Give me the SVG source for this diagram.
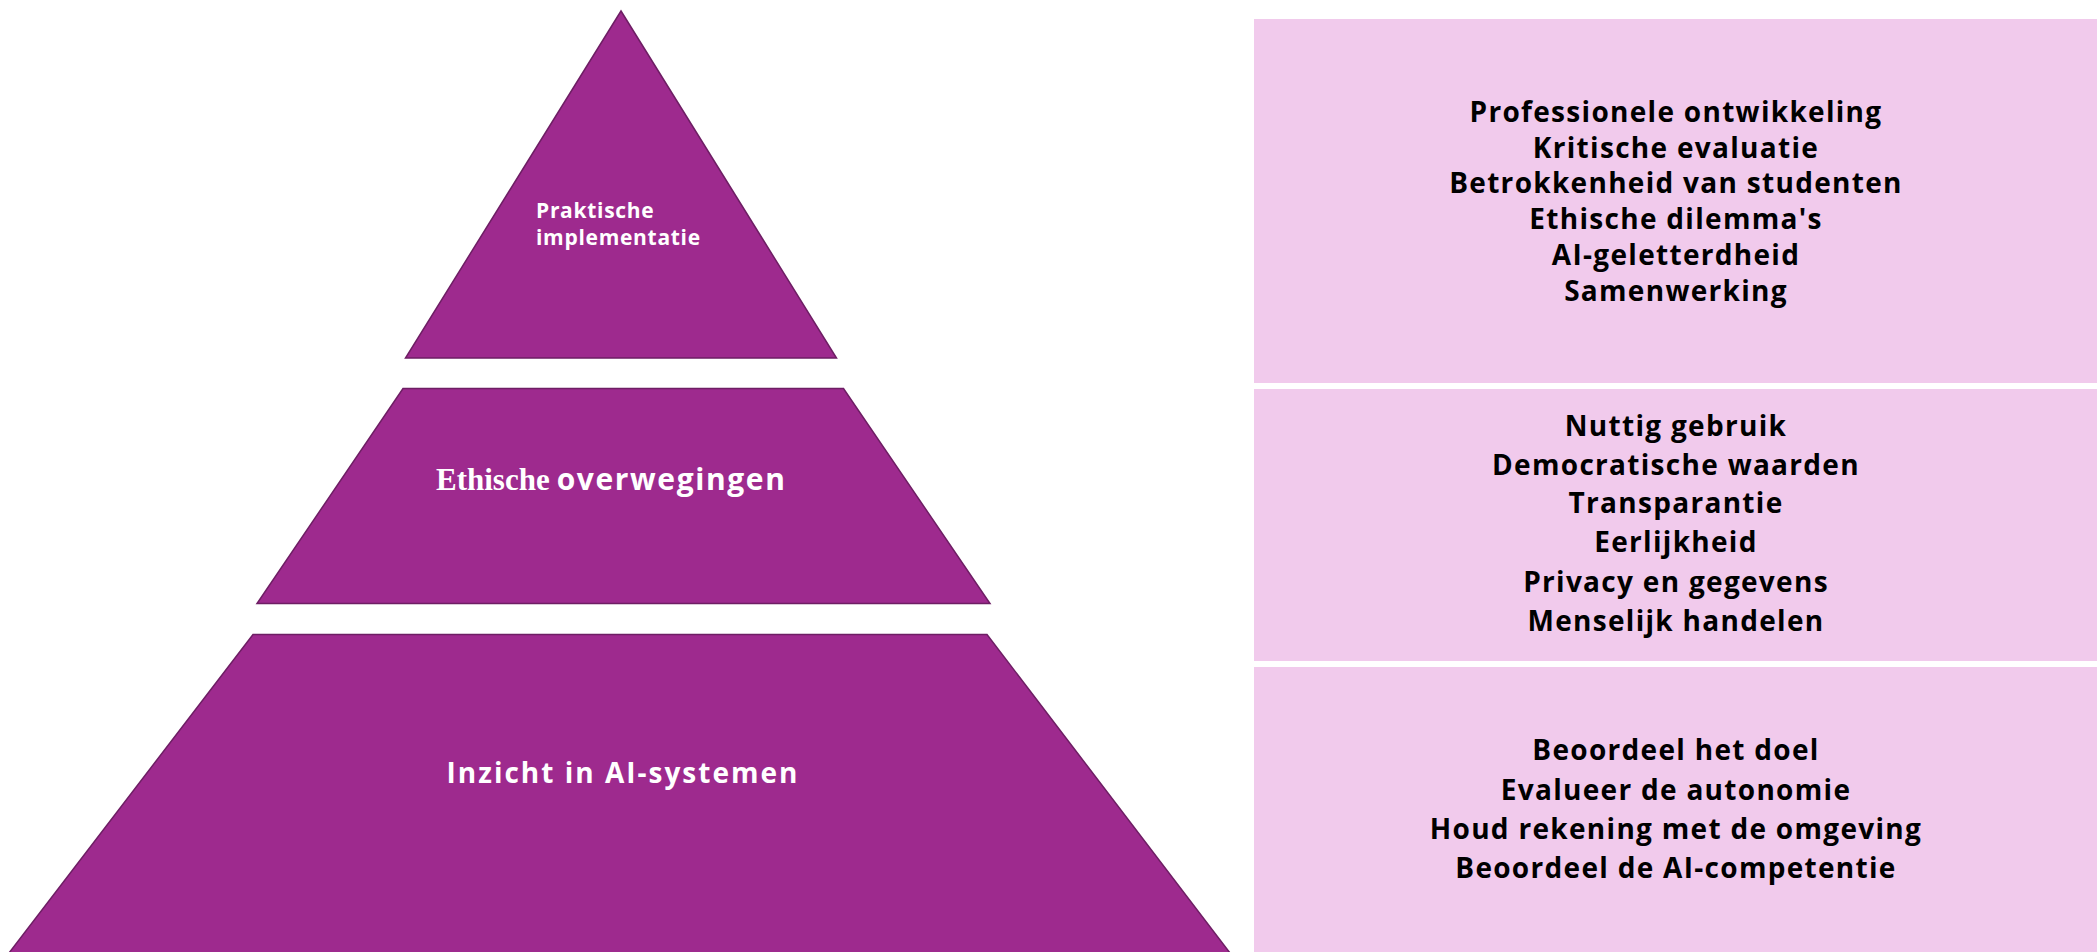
<svg xmlns="http://www.w3.org/2000/svg" width="2100" height="952" viewBox="0 0 2100 952">
  <style>
    .tier { fill: #9E2A8E; stroke: #6E1E64; stroke-width: 1.5; }
    .box { fill: #F1CAEC; }
    .lbl { font-family: "Open Sans", Inter, "Liberation Sans", sans-serif; font-weight: 700; fill: #FFFFFF; }
    .item { font-family: "Open Sans", Inter, "Liberation Sans", sans-serif; font-weight: 700; font-size: 28px; letter-spacing: 1.3px; fill: #000000; text-anchor: middle; }
  </style>
  <rect width="2100" height="952" fill="#FFFFFF"/>
  <g id="tier-top">
    <polygon class="tier" points="621,11 836.5,358 405.5,358"/>
    <text class="lbl" font-size="21" letter-spacing="0.7" x="536" y="218">Praktische</text>
    <text class="lbl" font-size="21" letter-spacing="0.7" x="536" y="245">implementatie</text>
  </g>
  <g id="tier-middle">
    <polygon class="tier" points="403,388.5 843.5,388.5 990,603.5 257,603.5"/>
    <text x="436" y="490" font-size="31" fill="#FFFFFF"><tspan font-family="'Liberation Serif', serif" font-weight="700">Ethische</tspan><tspan class="lbl" dx="7" font-size="30" letter-spacing="1.6">overwegingen</tspan></text>
  </g>
  <g id="tier-bottom">
    <polygon class="tier" points="253,634.5 987,634.5 1230,953 9,953"/>
    <text class="lbl" font-size="28" x="623" y="783" text-anchor="middle" letter-spacing="2">Inzicht in AI-systemen</text>
  </g>
  <g id="box-top">
    <rect class="box" x="1254" y="19" width="843" height="364"/>
    <text class="item" x="1676" y="121.7">Professionele ontwikkeling</text>
    <text class="item" x="1676" y="157.5">Kritische evaluatie</text>
    <text class="item" x="1676" y="193.3">Betrokkenheid van studenten</text>
    <text class="item" x="1676" y="229">Ethische dilemma's</text>
    <text class="item" x="1676" y="265">AI-geletterdheid</text>
    <text class="item" x="1676" y="300.7">Samenwerking</text>
  </g>
  <g id="box-middle">
    <rect class="box" x="1254" y="389" width="843" height="272"/>
    <text class="item" x="1676" y="436">Nuttig gebruik</text>
    <text class="item" x="1676" y="474.5">Democratische waarden</text>
    <text class="item" x="1676" y="513.3">Transparantie</text>
    <text class="item" x="1676" y="552.3">Eerlijkheid</text>
    <text class="item" x="1676" y="591.7">Privacy en gegevens</text>
    <text class="item" x="1676" y="631">Menselijk handelen</text>
  </g>
  <g id="box-bottom">
    <rect class="box" x="1254" y="667" width="843" height="285"/>
    <text class="item" x="1676" y="760">Beoordeel het doel</text>
    <text class="item" x="1676" y="800">Evalueer de autonomie</text>
    <text class="item" x="1676" y="839.3">Houd rekening met de omgeving</text>
    <text class="item" x="1676" y="878.3">Beoordeel de AI-competentie</text>
  </g>
  <g id="connectors"/>
</svg>
